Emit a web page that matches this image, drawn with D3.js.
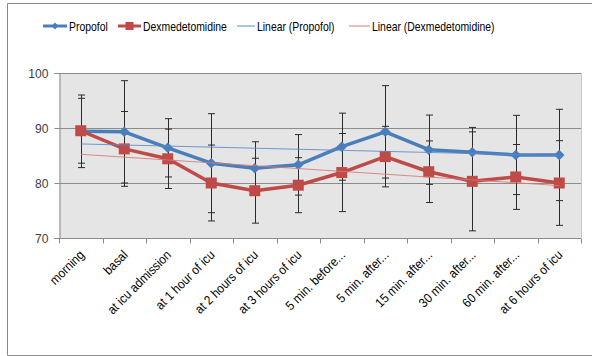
<!DOCTYPE html>
<html>
<head>
<meta charset="utf-8">
<script src="https://cdn.jsdelivr.net/npm/d3@7"></script>
<style>
  body { margin: 0; background: #fff; }
  svg { display: block; font-family: "Liberation Sans", Arial, sans-serif; }
</style>
</head>
<body>
<svg id="chart" width="592" height="356"></svg>
<script>
// categories and series
const categories = ['morning', 'basal', 'at icu admission', 'at 1 hour of icu', 'at 2 hours of icu',
  'at 3 hours of icu', '5 min. before...', '5 min. after...', '15 min. after...', '30 min. after...',
  '60 min. after...', 'at 6 hours of icu'];
const propofol = [89.4, 89.3, 86.4, 83.6, 82.7, 83.3, 86.6, 89.3, 86.05, 85.6, 85.1, 85.1];
const propofolSd = [6.6, 9.3, 5.3, 9.0, 4.8, 5.5, 6.1, 8.4, 6.3, 4.5, 7.2, 8.3];
const dexmed = [89.5, 86.2, 84.4, 80.0, 78.6, 79.6, 81.9, 84.8, 82.05, 80.3, 81.1, 80.0];
const dexmedSd = [5.9, 6.8, 5.4, 6.9, 5.9, 5.0, 7.1, 5.5, 5.6, 9.0, 5.9, 7.7];
const yTicks = [70, 80, 90, 100];

const blue = '#4a7ebb', red = '#be4b48';

const svg = d3.select('#chart');
const margin = {left: 59, right: 11, top: 73, bottom: 118};
const width = 592, height = 356;

// squeeze text a bit, the original font is narrower than what we have here
function condense(sel, k) {
  sel.each(function() {
    const w = this.getComputedTextLength();
    d3.select(this).attr('textLength', w * k).attr('lengthAdjust', 'spacingAndGlyphs');
  });
}

// outer frame
svg.append('path').attr('d', 'M592,3.5H7.5V355.5H592')
  .attr('fill', 'none').attr('stroke', '#8a8a8a').attr('stroke-width', 1);

const x = d3.scaleBand().domain(categories).range([margin.left, width - margin.right]);
const y = d3.scaleLinear().domain([70, 100]).range([height - margin.bottom, margin.top]);
const cx = d => x(d) + x.bandwidth() / 2;

// plot area
svg.append('rect')
  .attr('x', margin.left).attr('y', y(100))
  .attr('width', x.range()[1] - margin.left).attr('height', y(70) - y(100))
  .attr('fill', '#e5e5e5');
svg.append('line')
  .attr('x1', x.range()[1] + 0.5).attr('x2', x.range()[1] + 0.5)
  .attr('y1', y(100)).attr('y2', y(70)).attr('stroke', '#c8c8c8');

// gridlines
svg.append('g').selectAll('line').data(yTicks.filter(d => d > 70)).enter().append('line')
  .attr('x1', margin.left).attr('x2', x.range()[1])
  .attr('y1', d => Math.round(y(d)) + 0.5).attr('y2', d => Math.round(y(d)) + 0.5)
  .attr('stroke', '#8c8c8c').attr('stroke-width', 1);

// y axis
const yAxis = svg.append('g')
  .attr('transform', 'translate(' + (margin.left + 0.5) + ',0)')
  .call(d3.axisLeft(y).tickValues(yTicks).tickSize(5).tickPadding(6));
yAxis.select('.domain').attr('stroke', '#8c8c8c');
yAxis.selectAll('.tick line').attr('stroke', '#8c8c8c');
yAxis.selectAll('.tick text').attr('font-size', 13).attr('fill', '#404040')
  .attr('font-family', '"Liberation Sans", Arial, sans-serif');
condense(yAxis.selectAll('.tick text'), 0.93);

// x axis with boundary ticks
const xAxisG = svg.append('g').attr('transform', 'translate(0,' + (Math.round(y(70)) + 0.5) + ')');
xAxisG.append('line').attr('x1', margin.left).attr('x2', x.range()[1]).attr('stroke', '#8c8c8c');
const bounds = categories.map(c => x(c)).concat([x.range()[1]]);
xAxisG.selectAll('.bt').data(bounds).enter().append('line')
  .attr('x1', d => Math.round(d) + 0.5).attr('x2', d => Math.round(d) + 0.5)
  .attr('y1', 0).attr('y2', 5).attr('stroke', '#8c8c8c');
const xl = xAxisG.selectAll('.lbl').data(categories).enter().append('text')
  .attr('transform', d => 'translate(' + (cx(d) + 1) + ',14) rotate(-45)')
  .attr('text-anchor', 'end').attr('dy', '0.35em')
  .attr('font-size', 13).attr('fill', '#000')
  .text(d => d);
condense(xl, 0.9);

// linear trend lines (least squares over category index, like the spreadsheet trendline)
function linearFit(vals) {
  const n = vals.length, xs = vals.map((v, i) => i + 1);
  const mx = d3.mean(xs), my = d3.mean(vals);
  const slope = d3.sum(xs, (xi, i) => (xi - mx) * (vals[i] - my)) / d3.sum(xs, xi => (xi - mx) * (xi - mx));
  return [my + (1 - mx) * slope, my + (n - mx) * slope];
}
function drawTrend(vals, color) {
  const f = linearFit(vals);
  svg.append('line')
    .attr('x1', cx(categories[0])).attr('x2', cx(categories[categories.length - 1]))
    .attr('y1', y(f[0])).attr('y2', y(f[1]))
    .attr('stroke', color).attr('stroke-width', 1).attr('opacity', 0.85);
}

// error bars
function drawErrors(vals, sds) {
  const g = svg.append('g').attr('stroke', '#2b2b2b').attr('stroke-width', 1);
  vals.forEach((v, i) => {
    const xx = Math.round(cx(categories[i])) + 0.5;
    g.append('line').attr('x1', xx).attr('x2', xx).attr('y1', y(v - sds[i])).attr('y2', y(v + sds[i]));
    [v - sds[i], v + sds[i]].forEach(e => {
      g.append('line').attr('x1', xx - 3.5).attr('x2', xx + 3.5).attr('y1', y(e)).attr('y2', y(e));
    });
  });
}

const line = d3.line().x((d, i) => cx(categories[i])).y(d => y(d));

drawErrors(propofol, propofolSd);
drawErrors(dexmed, dexmedSd);

svg.append('path').datum(propofol).attr('d', line)
  .attr('fill', 'none').attr('stroke', blue).attr('stroke-width', 3.5).attr('stroke-linejoin', 'round');
svg.append('g').selectAll('path').data(propofol).enter().append('path')
  .attr('d', d3.symbol(d3.symbolDiamond2, 70))
  .attr('transform', (d, i) => 'translate(' + cx(categories[i]) + ',' + y(d) + ')')
  .attr('fill', blue);

svg.append('path').datum(dexmed).attr('d', line)
  .attr('fill', 'none').attr('stroke', red).attr('stroke-width', 3.5).attr('stroke-linejoin', 'round');
svg.append('g').selectAll('rect').data(dexmed).enter().append('rect')
  .attr('x', (d, i) => cx(categories[i]) - 5.5).attr('y', d => y(d) - 5.5)
  .attr('width', 11).attr('height', 11).attr('fill', red);

drawTrend(propofol, '#5a8bc8');
drawTrend(dexmed, '#d77a78');

// legend
const legend = [
  {name: 'Propofol', x1: 43, x2: 67, color: blue, w: 3, mark: 'diamond'},
  {name: 'Dexmedetomidine', x1: 118, x2: 141, color: red, w: 3, mark: 'square'},
  {name: 'Linear (Propofol)', x1: 237, x2: 255, color: '#5a8bc8', w: 1},
  {name: 'Linear (Dexmedetomidine)', x1: 349, x2: 370, color: '#d77a78', w: 1}
];
const ly = 26;
const lg = svg.append('g');
legend.forEach(l => {
  lg.append('line').attr('x1', l.x1).attr('x2', l.x2).attr('y1', ly).attr('y2', ly)
    .attr('stroke', l.color).attr('stroke-width', l.w);
  const mx = (l.x1 + l.x2) / 2;
  if (l.mark === 'diamond') {
    lg.append('path').attr('d', d3.symbol(d3.symbolDiamond2, 30))
      .attr('transform', 'translate(' + mx + ',' + ly + ')').attr('fill', l.color);
  } else if (l.mark === 'square') {
    lg.append('rect').attr('x', mx - 4).attr('y', ly - 4).attr('width', 8).attr('height', 8).attr('fill', l.color);
  }
  lg.append('text').attr('x', l.x2 + 2).attr('y', ly).attr('dy', '0.35em')
    .attr('font-size', 13).attr('fill', '#000').text(l.name);
});
condense(lg.selectAll('text'), 0.8);
</script>
</body>
</html>
